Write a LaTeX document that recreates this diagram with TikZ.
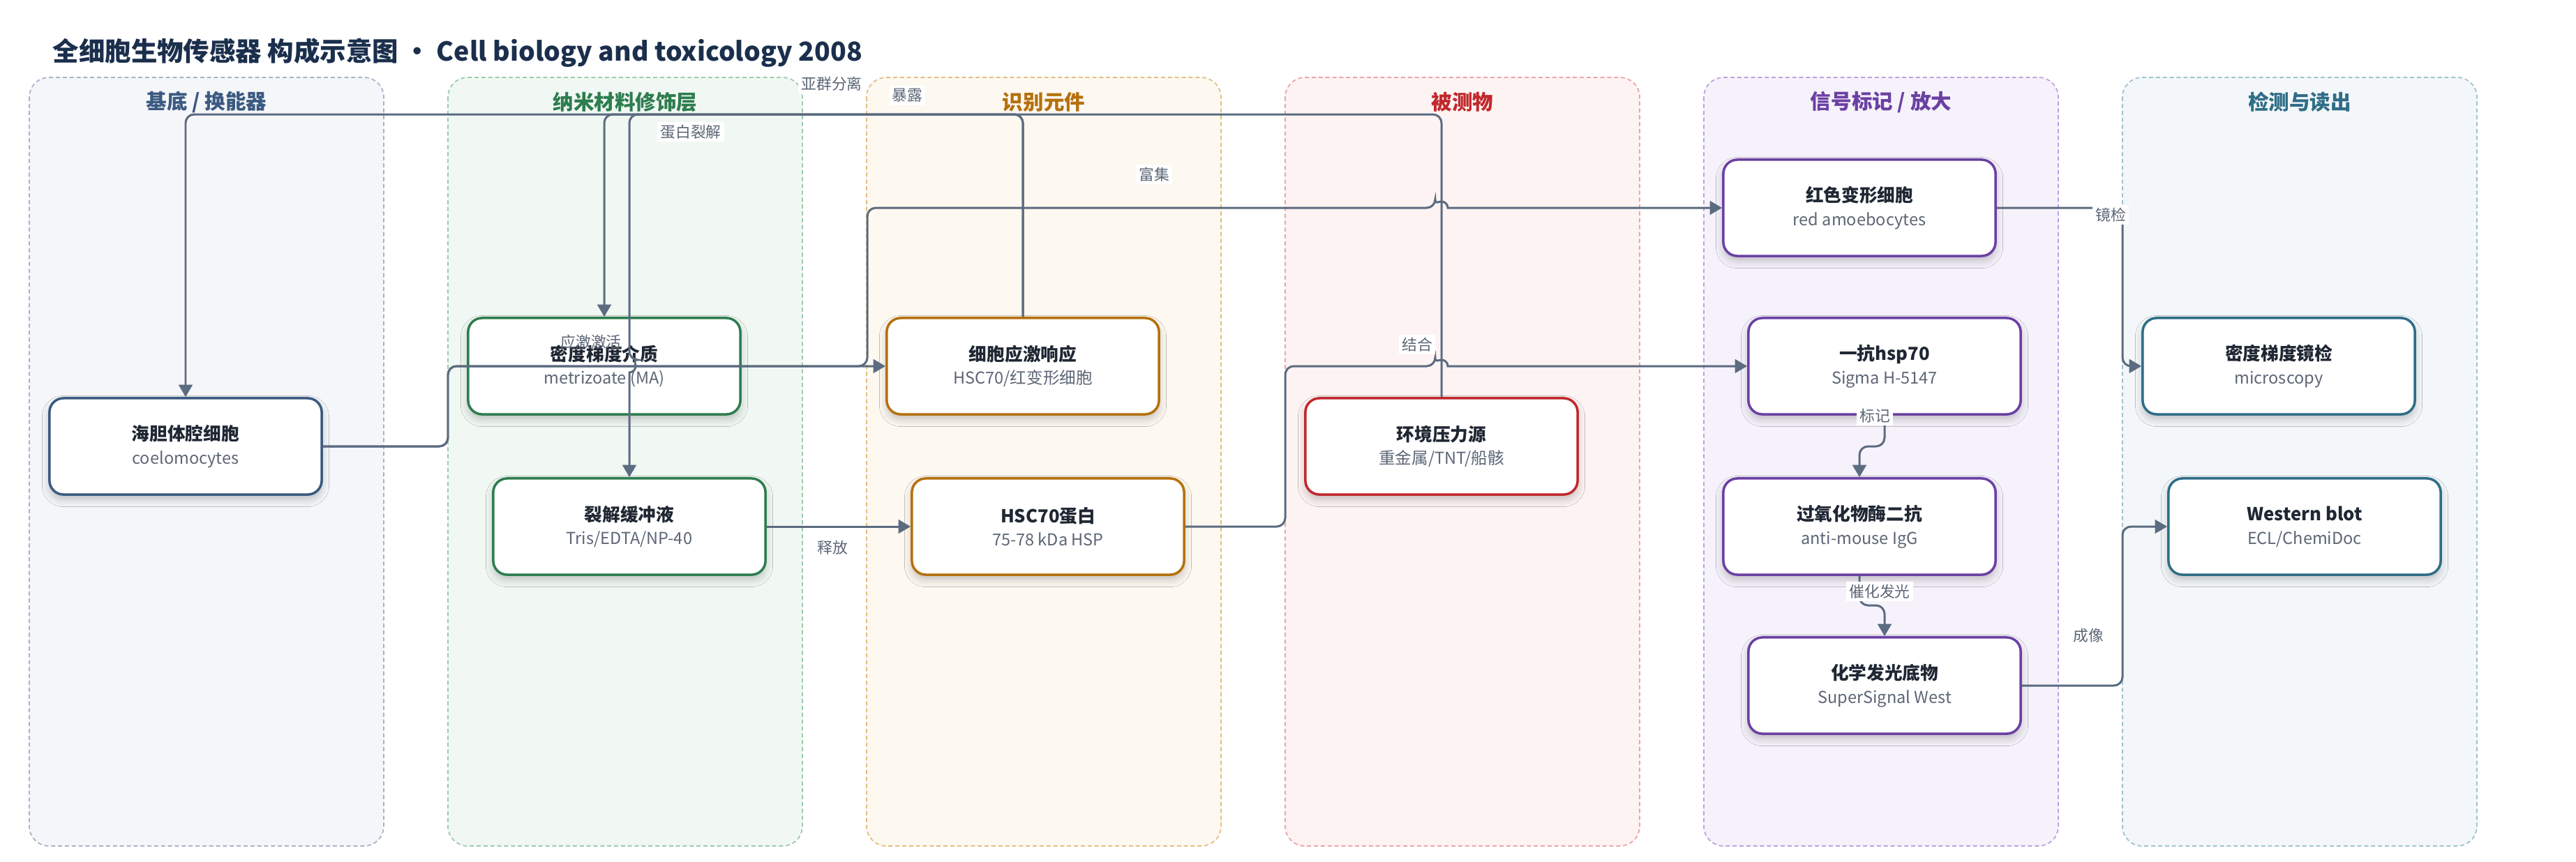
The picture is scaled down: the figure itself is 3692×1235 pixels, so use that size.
\documentclass[tikz,border=0pt]{standalone}
\usepackage{fontspec}
\setmainfont{Noto Sans CJK SC}
\usetikzlibrary{arrows.meta,shadows.blur}

\definecolor{navy}{HTML}{3B5A80}
\definecolor{navyfill}{HTML}{F4F6FA}
\definecolor{navyline}{HTML}{A7B4C8}
\definecolor{leaf}{HTML}{2E7D4F}
\definecolor{leaffill}{HTML}{F1F8F3}
\definecolor{leafline}{HTML}{9DCAAE}
\definecolor{amber}{HTML}{B5700D}
\definecolor{amberfill}{HTML}{FDF8F0}
\definecolor{amberline}{HTML}{E3BE82}
\definecolor{brick}{HTML}{C0282D}
\definecolor{brickfill}{HTML}{FDF3F2}
\definecolor{brickline}{HTML}{EBA5A5}
\definecolor{plum}{HTML}{6B40A3}
\definecolor{plumfill}{HTML}{F6F2FB}
\definecolor{plumline}{HTML}{BBA3DD}
\definecolor{sea}{HTML}{2F6D87}
\definecolor{seafill}{HTML}{F3F7F9}
\definecolor{sealine}{HTML}{A0C2CF}
\definecolor{wire}{HTML}{5B6B80}
\definecolor{ink}{HTML}{1F2733}
\definecolor{grayink}{HTML}{5C6676}
\definecolor{headink}{HTML}{1B2F4D}

\newcommand{\subline}[1]{{\fontsize{6.7}{9.6}\selectfont\color{grayink}#1}}

\begin{document}
\begin{tikzpicture}[x=0.01cm, y=-0.01cm,
    lane/.style={dash pattern=on 1.7pt off 1.1pt, line width=0.5pt, rounded corners=8pt},
    lanetitle/.style={font=\fontsize{8.4}{10}\selectfont\bfseries, inner sep=0pt},
    box/.style={draw=#1, fill=white, line width=1pt, rounded corners=5.7pt,
        minimum width=3.9cm, minimum height=1.38cm, align=center, text=ink,
        font=\fontsize{7.3}{9.6}\selectfont,
        blur shadow={shadow xshift=0pt, shadow yshift=-2pt, shadow blur radius=3pt, shadow opacity=22}},
    flow/.style={draw=wire, line width=0.85pt, rounded corners=3.5pt, -{Triangle[length=5pt,width=5.6pt]}},
    lbl/.style={fill=white, inner sep=1.2pt, text=grayink, font=\fontsize{6.2}{7}\selectfont}]

    \useasboundingbox (0,0) rectangle (3692,1235);

    % lanes
    \draw[lane, draw=navyline, fill=navyfill] (42,111) rectangle (550,1213);
    \draw[lane, draw=leafline, fill=leaffill] (642,111) rectangle (1150,1213);
    \draw[lane, draw=amberline, fill=amberfill] (1242,111) rectangle (1750,1213);
    \draw[lane, draw=brickline, fill=brickfill] (1842,111) rectangle (2350,1213);
    \draw[lane, draw=plumline, fill=plumfill] (2442,111) rectangle (2950,1213);
    \draw[lane, draw=sealine, fill=seafill] (3042,111) rectangle (3550,1213);

    \node[anchor=west, inner sep=0pt, text=headink, font=\fontsize{10.65}{12}\selectfont\bfseries] (title) at (75,76)
        {全细胞生物传感器 构成示意图 · Cell biology and toxicology 2008};

    \node[lanetitle, text=navy] (t-base) at (296,146) {基底 / 换能器};
    \node[lanetitle, text=leaf] (t-nano) at (896,146) {纳米材料修饰层};
    \node[lanetitle, text=amber] (t-recog) at (1496,146) {识别元件};
    \node[lanetitle, text=brick] (t-target) at (2096,146) {被测物};
    \node[lanetitle, text=plum] (t-signal) at (2696,146) {信号标记 / 放大};
    \node[lanetitle, text=sea] (t-read) at (3296,146) {检测与读出};

    % stages
    \node[box=navy] (coel) at (266,640) {\textbf{海胆体腔细胞}\\\subline{coelomocytes}};
    \node[box=leaf] (dens) at (866,525) {\textbf{密度梯度介质}\\\subline{metrizoate (MA)}};
    \node[box=leaf] (lysis) at (902,755) {\textbf{裂解缓冲液}\\\subline{Tris/EDTA/NP-40}};
    \node[box=amber] (resp) at (1466,525) {\textbf{细胞应激响应}\\\subline{HSC70/红变形细胞}};
    \node[box=amber] (hsc) at (1502,755) {\textbf{HSC70蛋白}\\\subline{75-78 kDa HSP}};
    \node[box=brick] (stress) at (2066,640) {\textbf{环境压力源}\\\subline{重金属/TNT/船骸}};
    \node[box=plum] (ameb) at (2665,298) {\textbf{红色变形细胞}\\\subline{red amoebocytes}};
    \node[box=plum] (anti1) at (2701,525) {\textbf{一抗hsp70}\\\subline{Sigma H-5147}};
    \node[box=plum] (anti2) at (2665,755) {\textbf{过氧化物酶二抗}\\\subline{anti-mouse IgG}};
    \node[box=plum] (subst) at (2701,983) {\textbf{化学发光底物}\\\subline{SuperSignal West}};
    \node[box=sea] (micro) at (3266,525) {\textbf{密度梯度镜检}\\\subline{microscopy}};
    \node[box=sea] (wblot) at (3303,755) {\textbf{Western blot}\\\subline{ECL/ChemiDoc}};

    % connectors
    \draw[flow] (stress.north) |- (266,164) -- (coel.north);
    \draw[flow] (resp.north) |- (866,164) -- (dens.north);
    \draw[flow] (resp.north) |- (902,164) -- (902,516) [sharp corners] arc (-90:90:9) -- (lysis.north);
    \draw[flow] (coel.east) -- (642,640) |- (resp.west);
    \draw[flow] (coel.east) -- (642,640) |- (1243,525) |- (2057,298) [sharp corners] arc (180:360:9) -- (ameb.west);
    \draw[flow] (lysis.east) -- (hsc.west);
    \draw[flow] (hsc.east) -- (1842,755) |- (2057,525) [sharp corners] arc (180:360:9) -- (anti1.west);
    \draw[flow] (ameb.east) -- (3042,298) |- (micro.west);
    \draw[flow] (anti1.south) -- (2701,640) -| (anti2.north);
    \draw[flow] (anti2.south) -- (2665,868) -| (subst.north);
    \draw[flow] (subst.east) -- (3042,983) |- (wblot.west);

    % edge labels
    \node[lbl] (l-sep) at (1192,120) {亚群分离};
    \node[lbl] (l-expo) at (1300,137) {暴露};
    \node[lbl] (l-lyse) at (990,189) {蛋白裂解};
    \node[lbl, fill=none] (l-act) at (847,490) {应激激活};
    \node[lbl] (l-enrich) at (1654,250) {富集};
    \node[lbl] (l-bind) at (2031,494) {结合};
    \node[lbl] (l-free) at (1193,785) {释放};
    \node[lbl] (l-scope) at (3025,308) {镜检};
    \node[lbl] (l-mark) at (2687,596) {标记};
    \node[lbl] (l-glow) at (2694,848) {催化发光};
    \node[lbl] (l-image) at (2993,911) {成像};
\end{tikzpicture}
\end{document}
